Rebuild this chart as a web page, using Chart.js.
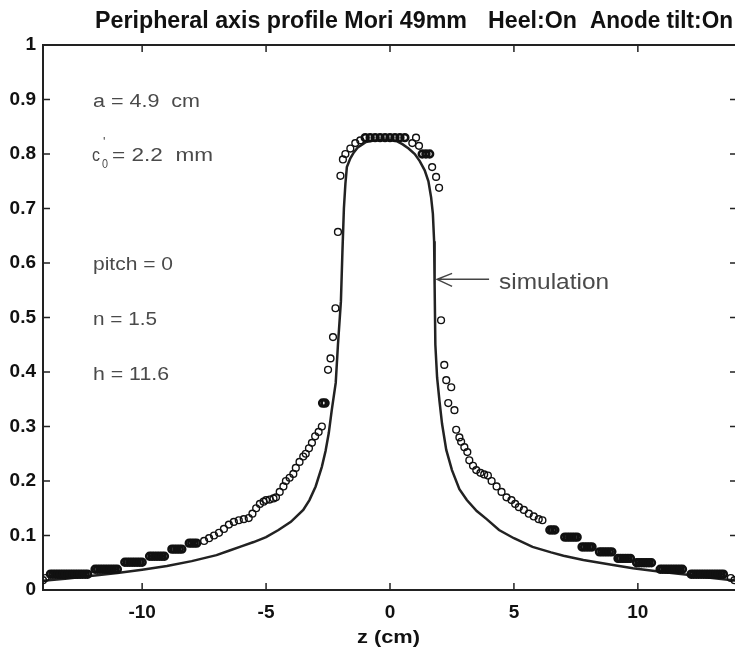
<!DOCTYPE html>
<html>
<head>
<meta charset="utf-8">
<script src="https://cdn.jsdelivr.net/npm/chart.js@4.4.1/dist/chart.umd.min.js"></script>
<style>
  html, body { margin: 0; padding: 0; background: #fff; overflow: hidden; }
  #grafik { display: block; }
</style>
</head>
<body>
<canvas id="grafik" width="745" height="650"></canvas>
<script>
/* simulation curve */
var zSim = [-14, -13, -12, -11, -10, -9, -8, -7, -6.5, -6, -5.5, -5, -4.5, -4, -3.5, -3.25, -3, -2.75, -2.6, -2.47, -2.35, -2.19, -2.1, -1.98, -1.92, -1.86, -1.8, -1.74, -1.6, -1.46, -1.3, -1.1, -0.97, -0.6, -0.3, 0, 0.25, 0.5, 0.75, 1.0, 1.2, 1.4, 1.55, 1.66, 1.73, 1.78, 1.8, 1.83, 1.9, 2.0, 2.1, 2.27, 2.5, 2.8, 3.1, 3.5, 3.9, 4.4, 5, 5.75, 6.5, 7, 7.8, 9, 9.8, 11, 12, 13, 14];
var vSim = [0.017, 0.021, 0.026, 0.031, 0.037, 0.044, 0.053, 0.064, 0.072, 0.080, 0.088, 0.097, 0.11, 0.125, 0.147, 0.165, 0.19, 0.226, 0.255, 0.288, 0.33, 0.38, 0.45, 0.53, 0.62, 0.70, 0.745, 0.776, 0.792, 0.803, 0.812, 0.818, 0.822, 0.825, 0.826, 0.826, 0.824, 0.818, 0.81, 0.80, 0.787, 0.77, 0.75, 0.72, 0.69, 0.64, 0.56, 0.45, 0.39, 0.345, 0.305, 0.257, 0.22, 0.185, 0.165, 0.145, 0.13, 0.11, 0.095, 0.079, 0.069, 0.063, 0.055, 0.046, 0.040, 0.033, 0.028, 0.022, 0.017];

/* measured profile (circles) - left tail, peak, right tail */
var zMeas = [
  -14.0, -13.9,
  -13.7, -13.6, -13.5, -13.4, -13.3, -13.2, -13.1, -13.0, -12.9, -12.8, -12.7, -12.6, -12.5, -12.4, -12.3, -12.2,
  -11.9, -11.8, -11.7, -11.6, -11.5, -11.4, -11.3, -11.2, -11.1, -11.0,
  -10.7, -10.6, -10.5, -10.4, -10.3, -10.2, -10.1, -10.0,
  -9.7, -9.6, -9.5, -9.4, -9.3, -9.2, -9.1,
  -8.8, -8.7, -8.6, -8.5, -8.4,
  -8.1, -8.0, -7.9, -7.8,
  -7.5, -7.3, -7.1, -6.9, -6.7, -6.5, -6.3, -6.1, -5.9, -5.7, -5.55, -5.4, -5.25, -5.1, -5.0, -4.85, -4.7, -4.6, -4.45, -4.3, -4.2, -4.05, -3.9, -3.8, -3.65, -3.5, -3.4, -3.27, -3.15, -3.02, -2.88, -2.75,
  -2.72, -2.62, -2.5, -2.4, -2.3, -2.2, -2.1, -2.0, -1.9, -1.8, -1.6, -1.4, -1.2,
  -1.0, -0.8, -0.6, -0.4, -0.2, 0, 0.2, 0.4, 0.6, 0.9, 1.05, 1.17, 1.3, 1.45, 1.6, 1.7, 1.86, 1.98,
  2.06, 2.19, 2.27, 2.35, 2.47, 2.6, 2.67, 2.8, 2.87, 3.0, 3.12, 3.2, 3.35, 3.48, 3.65, 3.8, 3.95, 4.1, 4.3, 4.5, 4.7, 4.9, 5.05, 5.2, 5.4, 5.6, 5.8, 6.0, 6.15,
  6.45, 6.55, 6.65,
  7.05, 7.15, 7.25, 7.35, 7.45, 7.55,
  7.75, 7.85, 7.95, 8.05, 8.15,
  8.45, 8.55, 8.65, 8.75, 8.85, 8.95,
  9.2, 9.3, 9.4, 9.5, 9.6, 9.7,
  9.95, 10.05, 10.15, 10.25, 10.35, 10.45, 10.55,
  10.9, 11.0, 11.1, 11.2, 11.3, 11.4, 11.5, 11.6, 11.7, 11.8,
  12.15, 12.25, 12.35, 12.45, 12.55, 12.65, 12.75, 12.85, 12.95, 13.05, 13.15, 13.25, 13.35, 13.45,
  13.75, 13.9
];
var vMeas = [
  0.018, 0.022,
  0.029, 0.029, 0.029, 0.029, 0.029, 0.029, 0.029, 0.029, 0.029, 0.029, 0.029, 0.029, 0.029, 0.029, 0.029, 0.029,
  0.038, 0.038, 0.038, 0.038, 0.038, 0.038, 0.038, 0.038, 0.038, 0.038,
  0.051, 0.051, 0.051, 0.051, 0.051, 0.051, 0.051, 0.051,
  0.062, 0.062, 0.062, 0.062, 0.062, 0.062, 0.062,
  0.075, 0.075, 0.075, 0.075, 0.075,
  0.086, 0.086, 0.086, 0.086,
  0.09, 0.095, 0.10, 0.105, 0.112, 0.12, 0.125, 0.128, 0.13, 0.132, 0.14, 0.15, 0.158, 0.162, 0.165, 0.166, 0.168, 0.17, 0.18, 0.19, 0.20, 0.206, 0.213, 0.224, 0.235, 0.245, 0.25, 0.26, 0.27, 0.282, 0.29, 0.30,
  0.343, 0.343, 0.404, 0.425, 0.464, 0.517, 0.657, 0.76, 0.79, 0.80, 0.81, 0.82, 0.825,
  0.83, 0.83, 0.83, 0.83, 0.83, 0.83, 0.83, 0.83, 0.83, 0.82, 0.83, 0.815, 0.80, 0.80, 0.80, 0.776, 0.758, 0.738,
  0.495, 0.413, 0.385, 0.343, 0.372, 0.33, 0.294, 0.28, 0.272, 0.262, 0.253, 0.238, 0.228, 0.22, 0.215, 0.212, 0.21, 0.20, 0.19, 0.18, 0.17, 0.165, 0.158, 0.152, 0.147, 0.14, 0.135, 0.13, 0.128,
  0.11, 0.11, 0.11,
  0.097, 0.097, 0.097, 0.097, 0.097, 0.097,
  0.079, 0.079, 0.079, 0.079, 0.079,
  0.07, 0.07, 0.07, 0.07, 0.07, 0.07,
  0.058, 0.058, 0.058, 0.058, 0.058, 0.058,
  0.05, 0.05, 0.05, 0.05, 0.05, 0.05, 0.05,
  0.038, 0.038, 0.038, 0.038, 0.038, 0.038, 0.038, 0.038, 0.038, 0.038,
  0.029, 0.029, 0.029, 0.029, 0.029, 0.029, 0.029, 0.029, 0.029, 0.029, 0.029, 0.029, 0.029, 0.029,
  0.022, 0.018
];

/* axes */
var xTicks = [-10, -5, 0, 5, 10];
var yTicks = [0, 0.1, 0.2, 0.3, 0.4, 0.5, 0.6, 0.7, 0.8, 0.9, 1];
var yTickLabels = ['0', '0.1', '0.2', '0.3', '0.4', '0.5', '0.6', '0.7', '0.8', '0.9', '1'];

var titleParts = ['Peripheral axis profile Mori 49mm', 'Heel:On', 'Anode tilt:On'];
var xTitle = 'z (cm)';
var notes = ['a = 4.9  cm', '= 2.2  mm', 'pitch = 0', 'n = 1.5', 'h = 11.6'];
var simLabel = 'simulation';

function noktalar(xs, ys) {
  var arr = [];
  for (var i = 0; i < xs.length; i++) arr.push({x: xs[i], y: ys[i]});
  return arr;
}

// circles sitting in a flat run (same value as a close neighbour) get a heavier rim,
// so the runs come out as the dark bars of the original
function kenarKalinligi(c) {
  var i = c.dataIndex;
  var v = vMeas[i];
  var once = i > 0 && vMeas[i - 1] === v && zMeas[i] - zMeas[i - 1] < 0.21;
  var sonra = i < vMeas.length - 1 && vMeas[i + 1] === v && zMeas[i + 1] - zMeas[i] < 0.21;
  return (once || sonra) ? 2.6 : 1.4;
}

// draw text stretched/squeezed to a given width
function yaziCiz(ctx, txt, x, y, w, font, renk) {
  ctx.save();
  ctx.font = font;
  var m = ctx.measureText(txt).width;
  ctx.translate(x, y);
  if (w) ctx.scale(w / m, 1);
  ctx.fillStyle = renk;
  ctx.textAlign = 'left';
  ctx.textBaseline = 'alphabetic';
  ctx.fillText(txt, 0, 0);
  ctx.restore();
}

var susleme = {
  id: 'susleme',
  afterDraw: function (chart) {
    var ctx = chart.ctx;
    var a = chart.chartArea;
    var sx = chart.scales.x, sy = chart.scales.y;

    ctx.save();
    ctx.strokeStyle = '#222';
    ctx.lineWidth = 2;
    // top / right frame
    ctx.beginPath();
    ctx.moveTo(a.left, a.top);
    ctx.lineTo(a.right, a.top);
    ctx.lineTo(a.right, a.bottom);
    ctx.stroke();

    // inward ticks
    ctx.lineWidth = 1.5;
    ctx.beginPath();
    xTicks.forEach(function (v) {
      var px = sx.getPixelForValue(v);
      ctx.moveTo(px, a.bottom); ctx.lineTo(px, a.bottom - 7);
      ctx.moveTo(px, a.top); ctx.lineTo(px, a.top + 7);
    });
    yTicks.forEach(function (v) {
      var py = sy.getPixelForValue(v);
      ctx.moveTo(a.left, py); ctx.lineTo(a.left + 7, py);
      ctx.moveTo(a.right, py); ctx.lineTo(a.right - 7, py);
    });
    ctx.stroke();
    ctx.restore();

    // title
    var tf = 'bold 24px "Liberation Sans", Arial, sans-serif';
    yaziCiz(ctx, titleParts[0], 95, 28, 372, tf, '#111');
    yaziCiz(ctx, titleParts[1], 488, 28, 89, tf, '#111');
    yaziCiz(ctx, titleParts[2], 590, 28, 143, tf, '#111');

    // x axis title
    yaziCiz(ctx, xTitle, 357, 643, 63, 'bold 19px "Liberation Sans", Arial, sans-serif', '#111');

    // parameter notes
    var nf = '18px "Liberation Sans", Arial, sans-serif';
    var gri = '#4a4a4a';
    yaziCiz(ctx, notes[0], 93, 107, 107, nf, gri);
    yaziCiz(ctx, 'c', 92, 161, 8, nf, gri);
    yaziCiz(ctx, '0', 102, 168, 6, '13px "Liberation Sans", Arial, sans-serif', gri);
    yaziCiz(ctx, '\'', 103, 146, 0, '13px "Liberation Sans", Arial, sans-serif', gri);
    yaziCiz(ctx, notes[1], 112, 161, 101, nf, gri);
    yaziCiz(ctx, notes[2], 93, 270, 80, nf, gri);
    yaziCiz(ctx, notes[3], 93, 325, 64, nf, gri);
    yaziCiz(ctx, notes[4], 93, 380, 76, nf, gri);

    // simulation arrow
    var ux = sx.getPixelForValue(1.9), uy = sy.getPixelForValue(0.57);
    ctx.save();
    ctx.strokeStyle = '#444';
    ctx.lineWidth = 1.5;
    ctx.beginPath();
    ctx.moveTo(ux + 52, uy); ctx.lineTo(ux, uy);
    ctx.moveTo(ux + 15, uy - 6); ctx.lineTo(ux, uy); ctx.lineTo(ux + 15, uy + 7);
    ctx.stroke();
    ctx.restore();
    yaziCiz(ctx, simLabel, ux + 62, uy + 10, 110, '22px "Liberation Sans", Arial, sans-serif', gri);
  }
};

var ctx = document.getElementById('grafik');
var grafik = new Chart(ctx, {
  type: 'scatter',
  data: {
    datasets: [{
      label: 'measured',
      data: noktalar(zMeas, vMeas),
      showLine: false,
      pointStyle: 'circle',
      pointRadius: 3.4,
      pointBorderWidth: kenarKalinligi,
      pointBorderColor: '#111',
      pointBackgroundColor: 'rgba(0,0,0,0)'
    }, {
      label: 'simulation',
      data: noktalar(zSim, vSim),
      showLine: true,
      tension: 0,
      borderColor: '#222',
      borderWidth: 2.5,
      pointRadius: 0
    }]
  },
  options: {
    responsive: false,
    maintainAspectRatio: false,
    animation: false,
    events: [],
    layout: { padding: { top: 45, right: 8, bottom: 0, left: 0 } },
    plugins: { legend: { display: false }, title: { display: false }, tooltip: { enabled: false } },
    scales: {
      x: {
        type: 'linear',
        min: -14,
        max: 14,
        afterBuildTicks: function (s) { s.ticks = xTicks.map(function (v) { return {value: v}; }); },
        afterFit: function (s) { s.height = 60; },
        grid: { display: false, drawTicks: false },
        border: { display: true, color: '#222', width: 2 },
        ticks: {
          padding: 11,
          color: '#111',
          font: { family: '"Liberation Sans", Arial, sans-serif', size: 19, weight: 'bold' },
          maxRotation: 0,
          callback: function (v) { return String(v); }
        }
      },
      y: {
        type: 'linear',
        min: 0,
        max: 1,
        afterBuildTicks: function (s) { s.ticks = yTicks.map(function (v) { return {value: v}; }); },
        afterFit: function (s) { s.width = 43; },
        grid: { display: false, drawTicks: false },
        border: { display: true, color: '#222', width: 2 },
        ticks: {
          padding: 7,
          color: '#111',
          font: { family: '"Liberation Sans", Arial, sans-serif', size: 19, weight: 'bold' },
          callback: function (v) { return yTickLabels[yTicks.indexOf(v)]; }
        }
      }
    }
  },
  plugins: [susleme]
});
</script>
</body>
</html>
